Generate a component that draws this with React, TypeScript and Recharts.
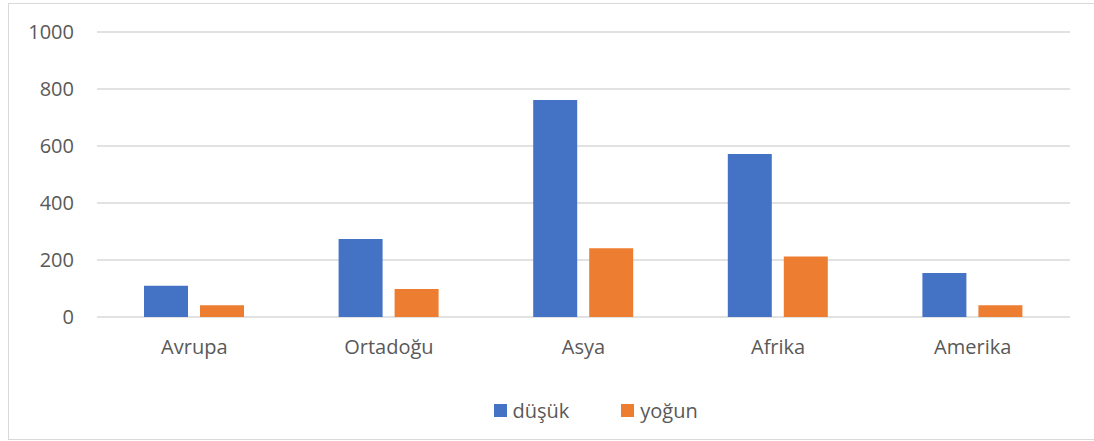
import { BarChart, Bar, XAxis, YAxis, CartesianGrid, Legend } from "recharts";

const regions = ["Avrupa", "Ortadoğu", "Asya", "Afrika", "Amerika"];
const dusuk = [110, 274, 761, 572, 154];
const yogun = [41, 98, 241, 212, 41];
const yTicks = [0, 200, 400, 600, 800, 1000];

const data = regions.map((name, i) => ({
  name,
  dusuk: dusuk[i],
  yogun: yogun[i],
}));

const BLUE = "#4472C4";
const ORANGE = "#ED7D31";
const TEXT = "#595959";
const FONT = "'Open Sans', sans-serif";

function LegendContent() {
  const items = [
    { label: "düşük", color: BLUE },
    { label: "yoğun", color: ORANGE },
  ];
  return (
    <div style={{ display: "flex", alignItems: "center", height: 24 }}>
      {items.map((it, i) => (
        <div
          key={it.label}
          style={{
            display: "flex",
            alignItems: "center",
            marginLeft: i === 0 ? 0 : 52,
          }}
        >
          <span
            style={{
              width: 13,
              height: 13,
              background: it.color,
              display: "inline-block",
              marginRight: 6,
            }}
          />
          <span style={{ fontFamily: FONT, fontSize: 20, color: TEXT }}>
            {it.label}
          </span>
        </div>
      ))}
    </div>
  );
}

export default function App() {
  return (
    <div
      style={{
        position: "fixed",
        left: 8,
        top: 3,
        width: 1086,
        height: 437,
        borderTop: "1.5px solid #d9d9d9",
        borderLeft: "1.5px solid #d9d9d9",
        borderBottom: "1.5px solid #d9d9d9",
        boxSizing: "border-box",
        background: "#fff",
      }}
    >
      <div style={{ position: "absolute", left: -1.5, top: -1.5 }}>
        <BarChart
          width={1086}
          height={437}
          data={data}
          margin={{ top: 29, right: 24, left: 0, bottom: 83 }}
          barSize={44}
          barGap={12}
        >
          <CartesianGrid
            vertical={false}
            stroke="#d9d9d9"
            strokeWidth={1.5}
          />
          <XAxis
            dataKey="name"
            height={40}
            axisLine={false}
            tickLine={false}
            tickMargin={17}
            tick={{ fill: TEXT, fontSize: 20, fontFamily: FONT }}
          />
          <YAxis
            width={89}
            domain={[0, 1000]}
            ticks={yTicks}
            axisLine={false}
            tickLine={false}
            tickMargin={17}
            tick={{ fill: TEXT, fontSize: 20, fontFamily: FONT }}
          />
          <Legend
            verticalAlign="middle"
            align="center"
            content={<LegendContent />}
            wrapperStyle={{ top: 396, left: 486, width: 260 }}
          />
          <Bar dataKey="dusuk" name="düşük" fill={BLUE} isAnimationActive={false} />
          <Bar dataKey="yogun" name="yoğun" fill={ORANGE} isAnimationActive={false} />
        </BarChart>
      </div>
    </div>
  );
}
